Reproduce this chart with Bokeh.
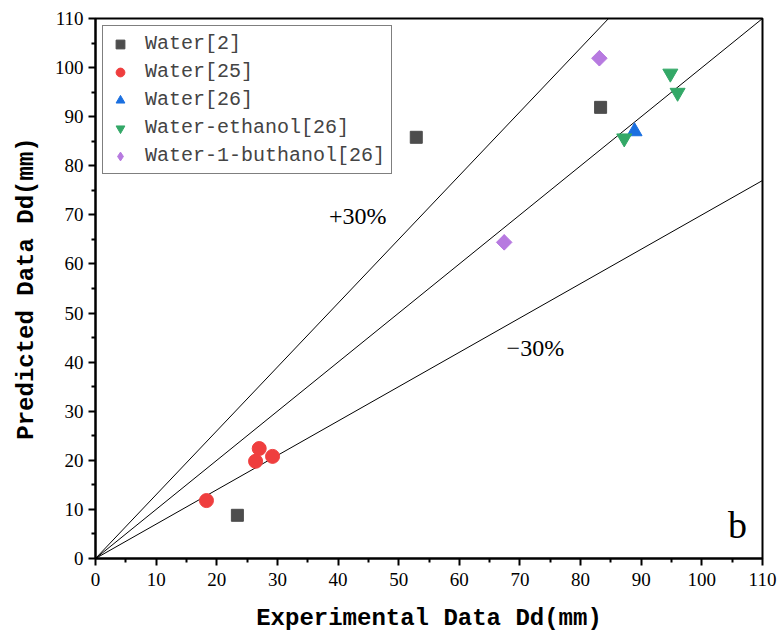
import math
from bokeh.plotting import figure
from bokeh.models import Range1d, FixedTicker, Legend, LegendItem, Label
from bokeh.embed import file_html
from bokeh.resources import INLINE

# data
w2_x = [23.4, 52.9, 83.3]
w2_y = [8.8, 85.8, 91.9]
w25_x = [18.3, 27.0, 26.4, 29.2]
w25_y = [11.8, 22.4, 19.8, 20.8]
w26_x = [88.9]
w26_y = [87.0]
we_x = [94.8, 96.0, 87.2]
we_y = [98.8, 94.9, 85.6]
wb_x = [83.1, 67.4]
wb_y = [101.9, 64.4]
ref_slopes = [1.3, 1.0, 0.7]
ticks = list(range(0, 111, 10))

p = figure(width=781, height=642, output_backend="svg", toolbar_location=None,
           x_range=Range1d(0, 110), y_range=Range1d(0, 110),
           min_border_left=95, min_border_right=19, min_border_top=18, min_border_bottom=84)
p.xgrid.visible = False
p.ygrid.visible = False
p.outline_line_color = "black"
p.outline_line_width = 2
p.background_fill_color = "white"
p.border_fill_color = "white"

for s in ref_slopes:
    xe = min(110, 110 / s)
    p.line([0, xe], [0, xe * s], line_color="black", line_width=1)

r1 = p.scatter(w2_x, w2_y, marker="square", size=12, color="#4d4d4d")
r2 = p.scatter(w25_x, w25_y, marker="circle", size=14, color="#ef3e3e")
r3 = p.scatter(w26_x, w26_y, marker="triangle", size=15, color="#1a6fe0")
r4 = p.scatter(we_x, we_y, marker="inverted_triangle", size=15, color="#33a867")
# diamond glyph (used for the legend) covered by a 45-degree rotated square
r5_leg = p.scatter(wb_x, wb_y, marker="diamond", size=15, color="#b77ae0")
r5 = p.scatter(wb_x, wb_y, marker="square", size=11, angle=math.pi / 4, color="#b77ae0")

for ax in (p.xaxis[0], p.yaxis[0]):
    ax.ticker = FixedTicker(ticks=ticks, minor_ticks=list(range(5, 110, 10)))
    ax.major_tick_out = 7
    ax.major_tick_in = 0
    ax.minor_tick_out = 4
    ax.minor_tick_in = 0
    ax.axis_line_width = 2
    ax.major_tick_line_width = 2
    ax.minor_tick_line_width = 2
    ax.major_label_text_font = "Liberation Serif"
    ax.major_label_text_font_size = "19px"
    ax.major_label_text_color = "black"
    ax.axis_label_text_font = "Liberation Mono"
    ax.axis_label_text_font_size = "24px"
    ax.axis_label_text_font_style = "bold"
    ax.axis_label_text_color = "black"

p.xaxis.axis_label = "Experimental Data Dd(mm)"
p.yaxis.axis_label = "Predicted Data Dd(mm)"
p.xaxis.major_label_standoff = 7
p.yaxis.major_label_standoff = 5
p.xaxis.axis_label_standoff = 16
p.yaxis.axis_label_standoff = 12

legend = Legend(items=[
    LegendItem(label="Water[2]", renderers=[r1]),
    LegendItem(label="Water[25]", renderers=[r2]),
    LegendItem(label="Water[26]", renderers=[r3]),
    LegendItem(label="Water-ethanol[26]", renderers=[r4]),
    LegendItem(label="Water-1-buthanol[26]", renderers=[r5_leg]),
], location="top_left")
legend.label_text_font = "Liberation Mono"
legend.label_text_font_size = "20px"
legend.label_height = 22
legend.glyph_height = 22
legend.glyph_width = 22
legend.spacing = 5
legend.padding = 6
legend.margin = 7
legend.border_line_color = "black"
legend.border_line_width = 1
legend.label_standoff = 14
legend.background_fill_alpha = 1
p.add_layout(legend)

p.add_layout(Label(x=38.5, y=67.2, text="+30%", text_font="Liberation Serif",
                   text_font_size="24px", text_color="black"))
p.add_layout(Label(x=67.8, y=40.3, text="\u221230%", text_font="Liberation Serif",
                   text_font_size="24px", text_color="black"))
p.add_layout(Label(x=104.3, y=2.5, text="b", text_font="Liberation Serif",
                   text_font_size="38px", text_color="black"))

open("out.html", "w").write(file_html(p, INLINE))
